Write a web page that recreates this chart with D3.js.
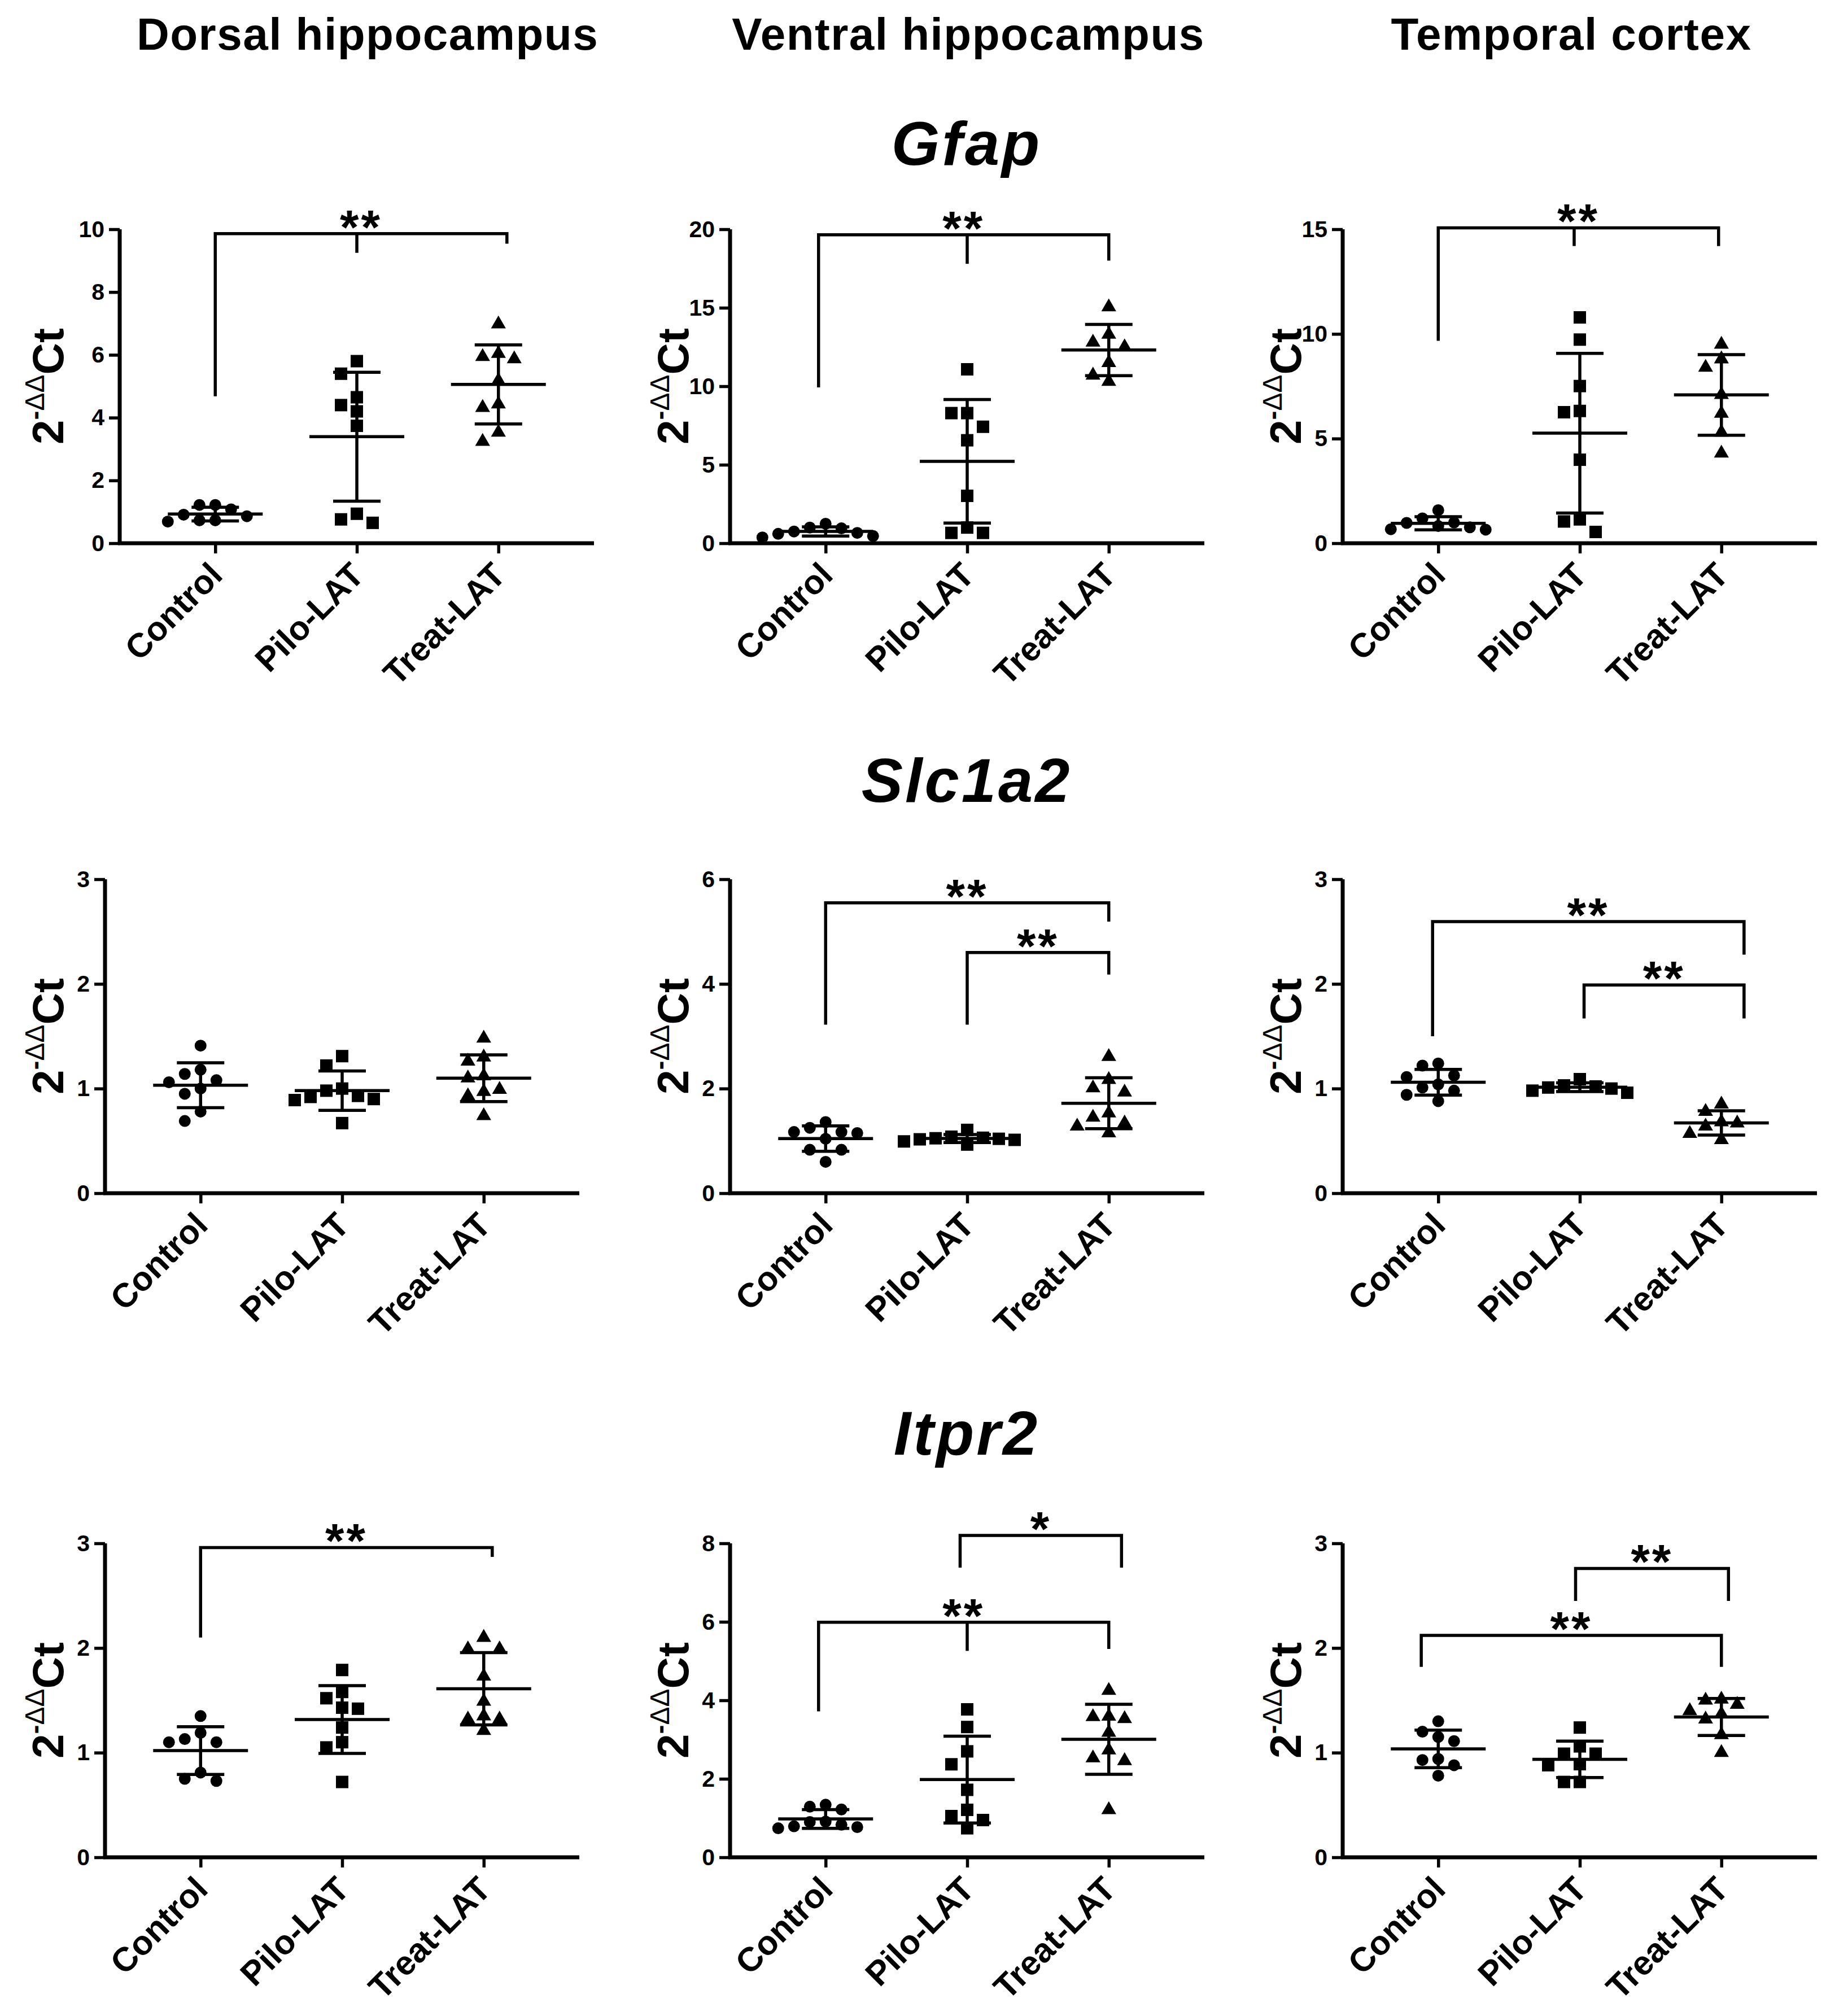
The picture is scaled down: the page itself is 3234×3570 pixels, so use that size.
<!DOCTYPE html>
<html>
<head>
<meta charset="utf-8">
<script src="https://cdn.jsdelivr.net/npm/d3@7"></script>
<style>
  body { margin: 0; background: #fff; }
  svg { display: block; }
</style>
</head>
<body>
<svg id="fig"></svg>
<script>
// groups, regions, genes
const groups = ["Control", "Pilo-LAT", "Treat-LAT"];
const regions = ["Dorsal hippocampus", "Ventral hippocampus", "Temporal cortex"];
const genes = ["Gfap", "Slc1a2", "Itpr2"];

// 2^-ddCt values, one array per group: [Control, Pilo-LAT, Treat-LAT]
const gfapDorsal = [
  [1.22, 1.22, 1.08, 0.91, 0.86, 0.73, 0.73, 0.69],
  [5.8, 5.4, 4.65, 4.4, 4.2, 3.74, 0.94, 0.76, 0.65],
  [6.98, 6.04, 5.94, 5.87, 5.18, 4.43, 4.32, 3.53, 3.24]
];
const gfapVentral = [
  [1.24, 1.0, 0.95, 0.75, 0.66, 0.6, 0.46, 0.37],
  [11.08, 8.29, 8.29, 7.42, 6.56, 3.02, 1.0, 0.66, 0.66],
  [15.05, 13.3, 12.8, 12.5, 11.5, 10.7, 10.3]
];
const gfapTemporal = [
  [1.58, 1.19, 0.99, 0.97, 0.82, 0.76, 0.67, 0.65],
  [10.79, 9.73, 7.51, 6.32, 6.26, 3.99, 1.14, 1.04, 0.54],
  [9.5, 8.8, 8.4, 7.1, 6.2, 5.3, 4.3]
];
const slcDorsal = [
  [1.41, 1.18, 1.14, 1.08, 1.06, 1.0, 0.95, 0.78, 0.69],
  [1.31, 1.22, 1.0, 0.98, 0.93, 0.92, 0.9, 0.89, 0.67],
  [1.48, 1.3, 1.26, 1.12, 1.1, 0.99, 0.97, 0.93, 0.74]
];
const slcVentral = [
  [1.36, 1.25, 1.17, 1.17, 1.15, 1.04, 0.83, 0.83, 0.6],
  [1.21, 1.08, 1.06, 1.05, 1.04, 1.03, 1.02, 0.99, 0.93],
  [2.61, 2.17, 2.01, 1.93, 1.53, 1.45, 1.34, 1.28, 1.15]
];
const slcTemporal = [
  [1.24, 1.22, 1.125, 1.11, 1.04, 1.01, 0.98, 0.94, 0.88],
  [1.09, 1.03, 1.02, 1.01, 1.0, 0.98, 0.96],
  [0.85, 0.78, 0.68, 0.67, 0.64, 0.57, 0.51]
];
const itprDorsal = [
  [1.35, 1.19, 1.13, 1.1, 1.1, 0.81, 0.75, 0.73],
  [1.79, 1.58, 1.52, 1.43, 1.42, 1.24, 1.1, 1.05, 0.72],
  [2.1, 1.99, 1.99, 1.73, 1.49, 1.35, 1.32, 1.32, 1.21]
];
const itprVentral = [
  [1.34, 1.29, 1.22, 0.91, 0.9, 0.83, 0.79, 0.77, 0.74],
  [3.77, 3.32, 2.7, 2.37, 1.72, 1.21, 1.05, 0.95, 0.74],
  [4.25, 3.59, 3.58, 3.53, 3.18, 2.73, 2.53, 2.46, 1.21]
];
const itprTemporal = [
  [1.3, 1.2, 1.15, 1.11, 0.94, 0.93, 0.88, 0.78],
  [1.24, 1.06, 0.99, 0.99, 0.89, 0.88, 0.72, 0.72],
  [1.51, 1.5, 1.46, 1.4, 1.37, 1.32, 1.17, 1.0]
];

// y axis max and tick step per panel (rows = genes, cols = regions)
const yMax = [[10, 20, 15], [3, 6, 3], [3, 8, 3]];
const yStep = [[2, 5, 5], [1, 2, 1], [1, 2, 1]];

// significance brackets: group index from a to b, bar height y, leg ends [left, middle, right]
const gfapDorsalSig = [{ a: 0, b: 2.06, mid: 1, y: 9.86, legs: [4.68, 9.25, 9.54], label: "**" }];
const gfapVentralSig = [{ a: -0.05, b: 2, mid: 1, y: 19.65, legs: [9.93, 17.8, 18.0], label: "**" }];
const gfapTemporalSig = [{ a: 0, b: 1.98, mid: 0.96, y: 15.07, legs: [9.67, 14.2, 14.2], label: "**" }];
const slcDorsalSig = [];
const slcVentralSig = [
  { a: 0, b: 2, y: 5.55, legs: [3.22, null, 5.19], label: "**" },
  { a: 1, b: 2, y: 4.6, legs: [3.22, null, 4.18], label: "**" }
];
const slcTemporalSig = [
  { a: -0.04, b: 2.16, y: 2.595, legs: [1.5, null, 2.28], label: "**" },
  { a: 1.03, b: 2.16, y: 1.99, legs: [1.67, null, 1.67], label: "**" }
];
const itprDorsalSig = [{ a: 0, b: 2.06, y: 2.96, legs: [2.1, null, 2.87], label: "**" }];
const itprVentralSig = [
  { a: -0.05, b: 2, mid: 1, y: 5.99, legs: [3.72, 5.26, 5.31], label: "**" },
  { a: 0.95, b: 2.09, y: 8.2, legs: [7.38, null, 7.38], label: "*" }
];
const itprTemporalSig = [
  { a: -0.12, b: 2, y: 2.12, legs: [1.82, null, 1.82], label: "**" },
  { a: 0.97, b: 2.05, y: 2.76, legs: [2.45, null, 2.45], label: "**" }
];

const panelData = [
  [gfapDorsal, gfapVentral, gfapTemporal],
  [slcDorsal, slcVentral, slcTemporal],
  [itprDorsal, itprVentral, itprTemporal]
];
const panelSig = [
  [gfapDorsalSig, gfapVentralSig, gfapTemporalSig],
  [slcDorsalSig, slcVentralSig, slcTemporalSig],
  [itprDorsalSig, itprVentralSig, itprTemporalSig]
];

// ---- layout ----
const W = 3234, H = 3570;
const FONT = "'Liberation Sans', Arial, Helvetica, sans-serif";
const axisX = [[212, 1293, 2378], [186, 1293, 2378], [186, 1293, 2378]];
const rowTop = [406, 1557, 2733];
const plotW = 840, plotH = 556;
const titleX = [651, 1715, 2783];
const geneBase = [292, 1420, 2576];
const LW = 5.5;

const svg = d3.select("#fig").attr("width", W).attr("height", H)
  .attr("font-family", FONT);
svg.append("rect").attr("width", W).attr("height", H).attr("fill", "#fff");

// column titles
svg.selectAll("text.region").data(regions).enter().append("text")
  .attr("class", "region")
  .attr("x", (d, i) => titleX[i]).attr("y", 88)
  .attr("text-anchor", "middle").attr("font-size", 80).attr("font-weight", "bold")
  .attr("letter-spacing", 1.5)
  .text(d => d);

// gene titles
svg.selectAll("text.gene").data(genes).enter().append("text")
  .attr("class", "gene")
  .attr("x", 1712).attr("y", (d, i) => geneBase[i])
  .attr("text-anchor", "middle").attr("font-size", 110).attr("font-weight", "bold")
  .attr("font-style", "italic").attr("letter-spacing", 4)
  .text(d => d);

const symbols = [
  d3.symbol().type(d3.symbolCircle).size(Math.PI * 10.5 * 10.5),
  d3.symbol().type(d3.symbolSquare).size(22 * 22),
  d3.symbol().type(d3.symbolTriangle).size(300)
];

// beeswarm-like spread of points that overlap vertically
function swarm(vals, y, cx, s, dmin) {
  const placed = [];
  return vals.map(v => {
    const py = y(v);
    let off = 0;
    for (let i = 0; i < 40; i++) {
      off = i === 0 ? 0 : (i % 2 ? -1 : 1) * Math.ceil(i / 2) * s;
      const hit = placed.some(p => Math.abs(p.x - off) < s * 0.99 && Math.abs(p.y - py) < dmin);
      if (!hit) break;
    }
    placed.push({ x: off, y: py });
    return { v, x: cx + off, y: py };
  });
}

function drawPanel(r, c) {
  const data = panelData[r][c];
  const sig = panelSig[r][c];
  const x0 = axisX[r][c], y0 = rowTop[r];
  const g = svg.append("g").attr("transform", `translate(${x0},${y0})`);

  const x = d3.scalePoint().domain(groups).range([0, plotW]).padding(0.675);
  const xi = d3.scaleLinear().domain([0, 2]).range([x(groups[0]), x(groups[2])]);
  const y = d3.scaleLinear().domain([0, yMax[r][c]]).range([plotH, 0]);
  const ticks = d3.range(0, yMax[r][c] + 1e-9, yStep[r][c]);

  // y axis
  const yAxis = g.append("g").call(d3.axisLeft(y).tickValues(ticks).tickSize(19).tickPadding(8)
    .tickFormat(d3.format("d")));
  yAxis.select(".domain").attr("stroke", "#000").attr("stroke-width", 7)
    .attr("d", `M0,${plotH}V0`);
  yAxis.selectAll(".tick line").attr("stroke", "#000").attr("stroke-width", LW);
  yAxis.selectAll(".tick text").attr("font-size", 41).attr("font-weight", "bold")
    .attr("font-family", FONT).attr("fill", "#000");

  // x axis
  const xAxis = g.append("g").attr("transform", `translate(0,${plotH})`)
    .call(d3.axisBottom(x).tickSize(18).tickFormat(""));
  xAxis.select(".domain").attr("stroke", "#000").attr("stroke-width", 7)
    .attr("d", `M-3,0H${plotW}`);
  xAxis.selectAll(".tick line").attr("stroke", "#000").attr("stroke-width", LW);

  g.selectAll("text.xlab").data(groups).enter().append("text")
    .attr("class", "xlab")
    .attr("transform", d => `translate(${x(d) + 16},${plotH + 60}) rotate(-45)`)
    .attr("text-anchor", "end").attr("font-size", 60).attr("font-weight", "bold")
    .text(d => d);

  // y label 2^-ddCt
  const lx = c === 0 ? 112 - x0 : -74;
  const lab = g.append("text")
    .attr("transform", `translate(${lx},${plotH / 2}) rotate(-90)`)
    .attr("text-anchor", "middle").attr("font-size", 78).attr("font-weight", "bold");
  lab.append("tspan").text("2");
  lab.append("tspan").attr("dy", -34).attr("font-size", 48).text("-");
  lab.append("tspan").attr("font-size", 48).attr("font-weight", "normal").text("\u0394\u0394");
  lab.append("tspan").attr("dy", 34).text("Ct");

  // points, mean and SD
  data.forEach((vals, gi) => {
    const cx = x(groups[gi]);
    const pts = swarm(vals, y, cx, 28, 25);
    g.selectAll(null).data(pts).enter().append("path")
      .attr("d", symbols[gi])
      .attr("transform", d => `translate(${d.x},${d.y})`)
      .attr("fill", "#000");

    const m = d3.mean(vals), sd = d3.deviation(vals);
    const ln = g.append("g").attr("stroke", "#000").attr("stroke-width", LW).attr("fill", "none");
    ln.append("line").attr("x1", cx - 84).attr("x2", cx + 84).attr("y1", y(m)).attr("y2", y(m));
    ln.append("line").attr("x1", cx).attr("x2", cx).attr("y1", y(m + sd)).attr("y2", y(m - sd));
    ln.append("line").attr("x1", cx - 42).attr("x2", cx + 42).attr("y1", y(m + sd)).attr("y2", y(m + sd));
    ln.append("line").attr("x1", cx - 42).attr("x2", cx + 42).attr("y1", y(m - sd)).attr("y2", y(m - sd));
  });

  // significance brackets
  sig.forEach(s => {
    const xa = xi(s.a), xb = xi(s.b), yb = y(s.y);
    const bg = g.append("g").attr("stroke", "#000").attr("stroke-width", LW).attr("fill", "none");
    bg.append("path").attr("d", `M${xa},${y(s.legs[0])}V${yb}H${xb}V${y(s.legs[2])}`);
    if (s.mid != null && s.legs[1] != null) {
      bg.append("line").attr("x1", xi(s.mid)).attr("x2", xi(s.mid))
        .attr("y1", yb).attr("y2", y(s.legs[1]));
    }
    g.append("text").attr("x", (xa + xb) / 2).attr("y", yb + 18)
      .attr("text-anchor", "middle").attr("font-size", 86).attr("font-weight", "bold")
      .attr("letter-spacing", 4)
      .text(s.label);
  });
}

for (let r = 0; r < 3; r++) for (let c = 0; c < 3; c++) drawPanel(r, c);
</script>
</body>
</html>
